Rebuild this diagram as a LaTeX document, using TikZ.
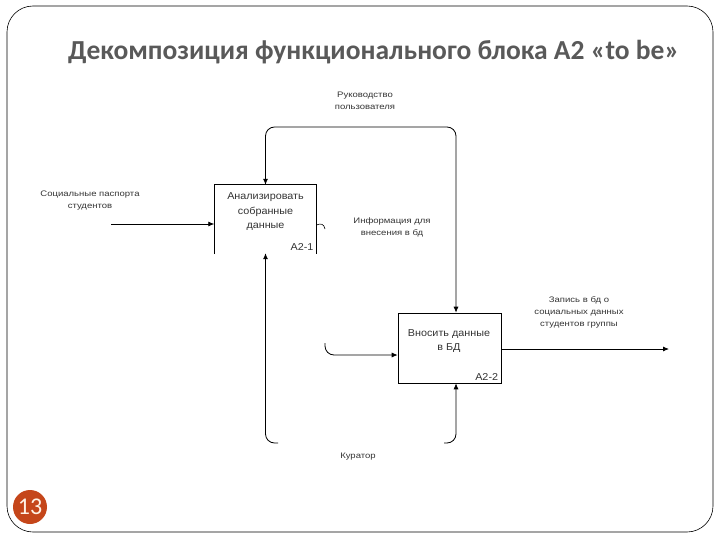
\documentclass[tikz,border=0pt]{standalone}
\usepackage{fontspec}
\setmainfont{Liberation Sans}
\newfontfamily\titlefont{Carlito}
\newfontfamily\lblfont[FakeStretch=1.19]{Liberation Sans}
\newfontfamily\boxfont[FakeStretch=1.08]{Liberation Sans}
\usetikzlibrary{arrows.meta}
\definecolor{badge}{HTML}{C5461A}

\begin{document}
\begin{tikzpicture}[x=1pt,y=-1pt,
  every node/.style={inner sep=0pt,align=center},
  lbl/.style={font=\lblfont\fontsize{8}{12}\selectfont,text=black!80},
  boxtext/.style={font=\boxfont\fontsize{10}{14.5}\selectfont,text=black!80},
  funcbox/.style={minimum width=102pt,minimum height=69pt},
  link/.style={line width=0.8pt,-{Latex[length=6pt,width=5pt]},rounded corners=9pt}]
\useasboundingbox (0,0) rectangle (720,540);
% slide frame and title
\draw[rounded corners=26pt,line width=0.6pt] (7,6) rectangle (713,532);
\node[anchor=west,font=\titlefont\bfseries\fontsize{27.5}{30}\selectfont,text=black!65] (title) at (68,52) {Декомпозиция функционального блока А2 «to be»};
% function boxes
\node[funcbox] (a21) at (265.5,219.5) {};
\draw[line width=0.6pt] (a21.south west) -- (a21.north west) -- (a21.north east) -- (a21.south east);
\node[boxtext] (a21txt) at (265.5,212) {Анализировать\\собранные\\данные};
\node[boxtext,anchor=south east] (a21num) at ([xshift=-3pt,yshift=3pt]a21.south east) {A2-1};
\node[funcbox,draw,line width=0.6pt,minimum width=103pt,minimum height=70pt] (a22) at (449.5,348) {};
\node[boxtext] (a22txt) at (449,341) {Вносить данные\\в БД};
\node[boxtext,anchor=south east] (a22num) at ([xshift=-3pt,yshift=3pt]a22.south east) {A2-2};
% connectors
\coordinate (ctrl) at (360,127);
\draw[link,{Latex[length=6pt,width=5pt]}-{Latex[length=6pt,width=5pt]}] (a21.north) |- (ctrl) -| ([xshift=6.5pt]a22.north);
\coordinate (inp) at (111,224);
\draw[link] (inp) -- (a21.west|-inp);
\coordinate (stubs) at (316.5,225);
\coordinate (stub) at (325,229);
\draw[line width=0.6pt] (stubs) .. controls (321,223) and (324,224) .. (stub);
\coordinate (inb) at (325,343);
\draw[link] (inb) |- ([yshift=-7pt]a22.west);
\coordinate (outp) at (669,349);
\draw[link] (a22.east|-outp) -- (outp);
\coordinate (mechl) at (278,443);
\draw[link] (mechl) -| ([yshift=1pt]a21.south);
\coordinate (mechr) at (444,443);
\draw[link] (mechr) -| ([xshift=6.5pt]a22.south);
% labels
\node[lbl] (ruk) at (365,101) {Руководство\\пользователя};
\node[lbl] (inf) at (392,227) {Информация для\\внесения в бд};
\node[lbl] (soc) at (90,201) {Социальные паспорта\\студентов};
\node[lbl] (zap) at (579,312) {Запись в бд о\\социальных данных\\студентов группы};
\node[lbl] (kur) at (358,457) {Куратор};
% page number
\node[circle,fill=badge,minimum size=34pt,font=\titlefont\fontsize{24}{24}\selectfont,text=orange!10] (page) at (30,507) {13};
\end{tikzpicture}
\end{document}
